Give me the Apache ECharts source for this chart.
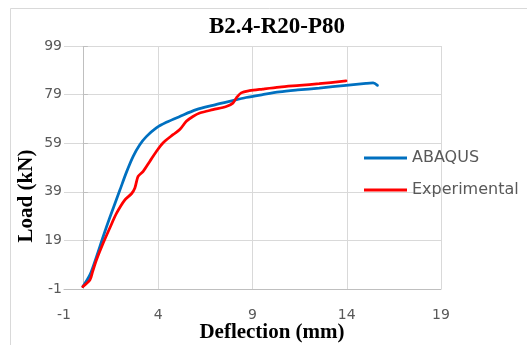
<!DOCTYPE html>
<html>
<head>
<meta charset="utf-8">
<script src="https://cdn.jsdelivr.net/npm/echarts@6/dist/echarts.min.js"></script>
<style>
  html, body { margin: 0; padding: 0; background: #ffffff; }
  #chart { width: 527px; height: 345px; }
</style>
</head>
<body>
<div id="chart"></div>
<script>
// Load–deflection response of specimen B2.4-R20-P80
const chartTitle = 'B2.4-R20-P80';
const xAxisTitle = 'Deflection (mm)';
const yAxisTitle = 'Load (kN)';

const xTicks = [-1, 4, 9, 14, 19];
const yTicks = [-1, 19, 39, 59, 79, 99];

// Numerical model (ABAQUS)
const abaqusDeflection = [0, 0.38, 0.73, 1.08, 1.43, 1.96, 2.32, 2.67, 3.02, 3.38, 3.90, 4.43, 5.14, 6.02, 6.90, 7.78, 8.66, 9.54, 10.43, 11.40, 12.54, 13.96, 15.02, 15.40, 15.63];
const abaqusLoad       = [0, 4.9, 12.4, 20.6, 28.4, 39.6, 47.2, 53.6, 58.4, 61.8, 65.3, 67.6, 70.0, 72.8, 74.6, 76.2, 77.8, 79.0, 80.1, 80.9, 81.7, 82.8, 83.6, 83.8, 82.8];

// Test measurements
const expDeflection = [0, 0.38, 0.52, 0.73, 1.08, 1.43, 1.79, 2.23, 2.58, 2.76, 2.93, 3.20, 3.55, 3.90, 4.25, 4.78, 5.14, 5.49, 5.84, 6.20, 6.90, 7.61, 7.96, 8.14, 8.40, 8.84, 9.54, 10.43, 11.50, 12.54, 13.96];
const expLoad       = [0, 2.8, 6.2, 11.1, 17.9, 24.1, 30.2, 35.7, 38.2, 40.6, 45.3, 47.4, 51.5, 55.6, 59.1, 62.5, 64.6, 68.0, 70.0, 71.4, 72.8, 74.1, 75.5, 77.6, 79.7, 80.6, 81.3, 82.1, 82.8, 83.5, 84.6];

const toPairs = (xs, ys) => xs.map((x, i) => [x, ys[i]]);

const chart = echarts.init(document.getElementById('chart'), null, { renderer: 'canvas' });

const gridLine = '#d9d9d9';
const axisGray = '#bfbfbf';
const labelGray = '#595959';

chart.setOption({
  animation: false,
  backgroundColor: '#ffffff',
  title: {
    text: chartTitle,
    left: 272,
    top: 11,
    textAlign: 'center',
    textStyle: {
      fontFamily: 'Liberation Serif',
      fontWeight: 'bold',
      fontSize: 23,
      color: '#000000'
    }
  },
  legend: {
    orient: 'vertical',
    left: 364,
    top: 150,
    padding: 0,
    itemWidth: 43,
    itemHeight: 3,
    itemGap: 16,
    icon: 'rect',
    textStyle: {
      fontFamily: 'DejaVu Sans',
      fontSize: 16,
      color: labelGray
    },
    data: ['ABAQUS', 'Experimental']
  },
  grid: {
    left: 64,
    top: 46,
    width: 377,
    height: 243,
    containLabel: false
  },
  xAxis: {
    type: 'value',
    min: xTicks[0],
    max: xTicks[xTicks.length - 1],
    interval: 5,
    axisLine: { show: true, onZero: false, lineStyle: { color: axisGray, width: 1 } },
    axisTick: { show: false },
    axisLabel: {
      margin: 19,
      fontFamily: 'DejaVu Sans',
      fontSize: 14,
      color: labelGray
    },
    splitLine: {
      show: true,
      lineStyle: { color: ['rgba(0,0,0,0)', gridLine, gridLine, gridLine, gridLine], width: 1 }
    }
  },
  yAxis: {
    type: 'value',
    min: yTicks[0],
    max: yTicks[yTicks.length - 1],
    interval: 20,
    axisLine: { show: false },
    axisTick: { show: true, inside: true, length: 5, lineStyle: { color: axisGray } },
    axisLabel: {
      margin: 2,
      fontFamily: 'DejaVu Sans',
      fontSize: 14,
      color: labelGray
    },
    splitLine: { show: true, lineStyle: { color: gridLine, width: 1 } }
  },
  graphic: [
    {
      type: 'rect',
      silent: true,
      z: -10,
      shape: { x: 10.5, y: 8.5, width: 600, height: 400 },
      style: { fill: 'none', stroke: '#d9d9d9', lineWidth: 1 }
    },
    {
      type: 'text',
      x: 272,
      y: 333,
      style: {
        text: xAxisTitle,
        fontFamily: 'Liberation Serif',
        fontWeight: 'bold',
        fontSize: 21,
        fill: '#000000',
        align: 'center',
        verticalAlign: 'middle'
      }
    },
    {
      type: 'text',
      x: 27,
      y: 196,
      rotation: Math.PI / 2,
      style: {
        text: yAxisTitle,
        fontFamily: 'Liberation Serif',
        fontWeight: 'bold',
        fontSize: 21,
        fill: '#000000',
        align: 'center',
        verticalAlign: 'middle'
      }
    }
  ],
  series: [
    {
      name: 'ABAQUS',
      type: 'line',
      data: toPairs(abaqusDeflection, abaqusLoad),
      smooth: 0.3,
      showSymbol: false,
      symbol: 'none',
      color: '#0070C0',
      lineStyle: { color: '#0070C0', width: 2.75, cap: 'round' },
      z: 3,
      markLine: {
        silent: true,
        symbol: 'none',
        label: { show: false },
        lineStyle: { color: axisGray, width: 1, type: 'solid' },
        data: [{ xAxis: 0 }],
        z: 1
      }
    },
    {
      name: 'Experimental',
      type: 'line',
      data: toPairs(expDeflection, expLoad),
      smooth: 0.3,
      showSymbol: false,
      symbol: 'none',
      color: '#FF0000',
      lineStyle: { color: '#FF0000', width: 2.75, cap: 'round' },
      z: 4
    }
  ]
});
</script>
</body>
</html>
